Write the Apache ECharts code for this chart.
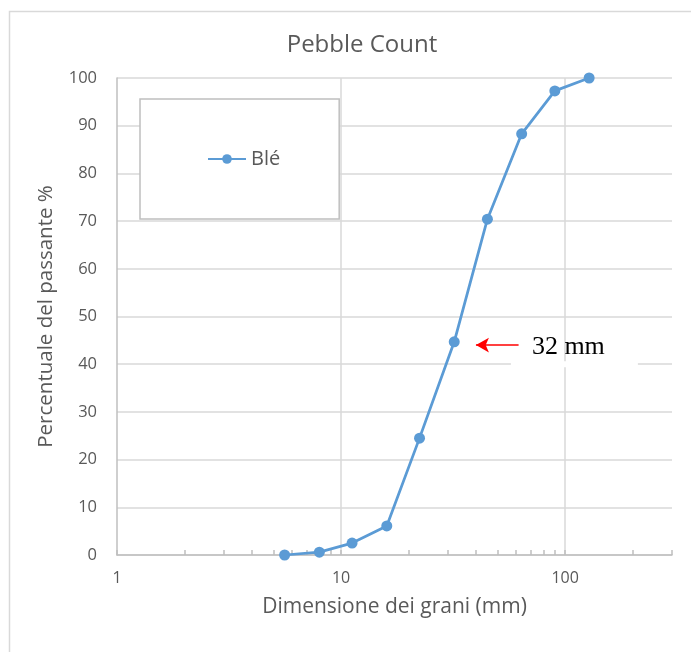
<!DOCTYPE html>
<html>
<head>
<meta charset="utf-8">
<script src="https://cdn.jsdelivr.net/npm/echarts@6/dist/echarts.min.js"></script>
<style>
  html, body { margin: 0; padding: 0; background: #fff; }
  #chart { width: 691px; height: 652px; }
</style>
</head>
<body>
<div id="chart"></div>
<script>
// grain size (mm) and cumulative passing (%)
var sizes = [5.6, 8, 11.2, 16, 22.4, 32, 45, 64, 90, 128]
var passing = [0, 0.6, 2.5, 6.1, 24.5, 44.7, 70.4, 88.3, 97.3, 100]
var seriesName = 'Blé'
var xMajorLabels = [1, 10, 100]
var xMinorTicks = [1, 2, 3, 4, 5, 6, 7, 8, 9, 10, 20, 30, 40, 50, 60, 70, 80, 90, 100, 200, 300]
// annotation "32 mm"
var arrowFrom = [62, 44.0]
var arrowTo = [40, 44.0]
var noteAt = [110, 40]
var noteText = '32 mm'

var font = '"Open Sans", "Noto Sans", sans-serif'
var grey = '#595959'

var chart = echarts.init(document.getElementById('chart'))
chart.setOption({
  backgroundColor: '#fff',
  animation: false,
  title: {
    text: 'Pebble Count',
    left: 357, top: 28, textAlign: 'center',
    textStyle: { fontFamily: font, fontSize: 24, fontWeight: 'normal', color: grey }
  },
  legend: {
    data: [seriesName],
    left: 140, top: 99,
    orient: 'vertical',
    padding: [50, 59, 50, 67],
    backgroundColor: '#fff',
    borderColor: '#bfbfbf', borderWidth: 1.5,
    itemWidth: 38, itemHeight: 12,
    textStyle: { fontFamily: font, fontSize: 20, color: grey }
  },
  graphic: [{
    type: 'rect', silent: true,
    shape: { x: 9.5, y: 11.5, width: 720, height: 700 },
    style: { fill: 'none', stroke: '#d9d9d9', lineWidth: 1.5 }
  }],
  grid: { left: 117, right: 19, top: 78, bottom: 97 },
  xAxis: [{
    type: 'log', logBase: 10, min: 1, max: 300,
    name: 'Dimensione dei grani (mm)', nameLocation: 'middle', nameGap: 42,
    nameTextStyle: { fontFamily: font, fontSize: 21, color: grey },
    axisLine: { lineStyle: { color: '#bfbfbf', width: 1.5 } },
    axisTick: { show: false },
    axisLabel: { customValues: xMajorLabels, fontFamily: font, fontSize: 16, color: grey, margin: 15 },
    splitLine: { show: true, showMinLine: false, showMaxLine: false, lineStyle: { color: '#d9d9d9', width: 1.5 } }
  }, {
    type: 'log', logBase: 10, min: 1, max: 300, position: 'bottom',
    axisLine: { show: false },
    axisLabel: { show: false },
    splitLine: { show: false },
    axisTick: { show: true, inside: true, length: 5, customValues: xMinorTicks, lineStyle: { color: '#bfbfbf', width: 1.5 } }
  }],
  yAxis: {
    type: 'value', min: 0, max: 100, interval: 10,
    name: 'Percentuale del passante %', nameLocation: 'middle', nameGap: 60,
    nameTextStyle: { fontFamily: font, fontSize: 20.5, color: grey },
    axisLine: { show: true, lineStyle: { color: '#bfbfbf', width: 1.5 } },
    axisTick: { show: false },
    axisLabel: { fontFamily: font, fontSize: 16.5, color: grey, margin: 20 },
    splitLine: { lineStyle: { color: '#d9d9d9', width: 1.5 } }
  },
  series: [{
    name: seriesName,
    type: 'line',
    xAxisIndex: 0,
    data: sizes.map(function (s, i) { return [s, passing[i]] }),
    symbol: 'circle', symbolSize: 11,
    itemStyle: { color: '#5b9bd5' },
    lineStyle: { color: '#5b9bd5', width: 2.75 },
    markLine: {
      silent: true,
      symbol: ['none', 'arrow'], symbolSize: [11, 13],
      label: { show: false },
      lineStyle: { color: '#ff0000', width: 1.5, type: 'solid' },
      data: [[{ coord: arrowFrom }, { coord: arrowTo }]]
    },
    markPoint: {
      silent: true,
      symbol: 'rect', symbolSize: [127, 6],
      itemStyle: { color: '#fff' },
      label: {
        show: true, formatter: noteText, position: 'inside', offset: [-6, -17],
        fontFamily: '"Liberation Serif", "Times New Roman", serif', fontSize: 26, color: '#000'
      },
      data: [{ coord: noteAt }]
    }
  }]
})
</script>
</body>
</html>
